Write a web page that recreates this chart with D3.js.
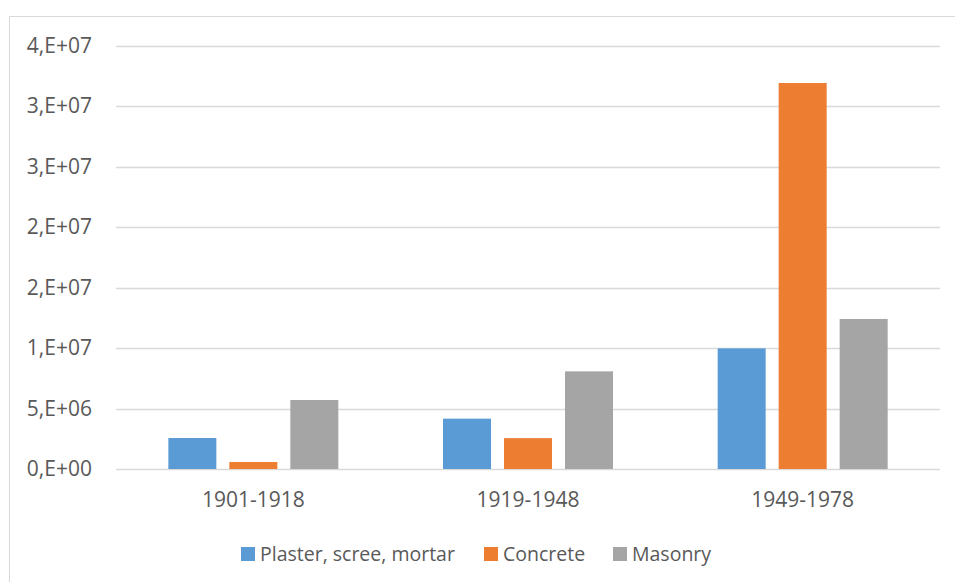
<!DOCTYPE html>
<html>
<head>
<meta charset="utf-8">
<script src="https://cdn.jsdelivr.net/npm/d3@7"></script>
<style>
  body { margin: 0; background: #fff; }
  svg text { font-family: "Open Sans", sans-serif; fill: #595959; }
</style>
</head>
<body>
<svg id="chart" width="955" height="582"></svg>
<script>
// chart values
const periods = ["1901-1918", "1919-1948", "1949-1978"];
const seriesNames = ["Plaster, scree, mortar", "Concrete", "Masonry"];
const plaster = [2.56e6, 4.16e6, 9.97e6];
const concrete = [0.58e6, 2.55e6, 31.9e6];
const masonry = [5.7e6, 8.07e6, 12.4e6];
const tickValues = [0, 5e6, 1e7, 1.5e7, 2e7, 2.5e7, 3e7, 3.5e7];
const tickLabels = ["0,E+00", "5,E+06", "1,E+07", "2,E+07", "2,E+07", "3,E+07", "3,E+07", "4,E+07"];
const colors = ["#5B9BD5", "#ED7D31", "#A5A5A5"];

const svg = d3.select("#chart");

// outer chart border (top + left visible)
svg.append("path")
    .attr("d", "M9.5,582 L9.5,16.5 L955,16.5")
    .attr("fill", "none")
    .attr("stroke", "#d9d9d9")
    .attr("stroke-width", 1);

const plot = { left: 116, right: 940, top: 45.5, bottom: 469 };

const x0 = d3.scaleBand().domain(periods).range([plot.left, plot.right]);
const groupW = 170;
const x1 = d3.scaleBand()
    .domain(seriesNames)
    .range([(x0.bandwidth() - groupW) / 2, (x0.bandwidth() + groupW) / 2])
    .paddingInner(0.213);

const y = d3.scaleLinear().domain([0, 3.5e7]).range([plot.bottom, plot.top]);

// gridlines
svg.append("g")
    .selectAll("line")
    .data(tickValues)
    .join("line")
    .attr("x1", plot.left)
    .attr("x2", plot.right)
    .attr("y1", d => Math.round(y(d)) + 0.5)
    .attr("y2", d => Math.round(y(d)) + 0.5)
    .attr("stroke", "#d9d9d9")
    .attr("stroke-width", 1.3);

// y labels
const yAxis = d3.axisLeft(y)
    .tickValues(tickValues)
    .tickFormat((d, i) => tickLabels[i])
    .tickSize(0)
    .tickPadding(24);
const gy = svg.append("g").attr("transform", `translate(${plot.left},0)`).call(yAxis);
gy.select(".domain").remove();
gy.selectAll("text").style("font-size", "21px").attr("fill", "#595959");

// bars
const seriesData = [plaster, concrete, masonry];
const rows = periods.map((p, i) => ({ period: p, vals: seriesNames.map((s, k) => ({ name: s, k: k, v: seriesData[k][i] })) }));

svg.append("g")
    .selectAll("g")
    .data(rows)
    .join("g")
    .attr("transform", d => `translate(${x0(d.period)},0)`)
    .selectAll("rect")
    .data(d => d.vals)
    .join("rect")
    .attr("x", d => x1(d.name))
    .attr("width", x1.bandwidth())
    .attr("y", d => y(d.v))
    .attr("height", d => y(0) - y(d.v))
    .attr("fill", d => colors[d.k]);

// x labels
const xAxis = d3.axisBottom(x0).tickSize(0).tickPadding(23);
const gx = svg.append("g").attr("transform", `translate(0,${plot.bottom})`).call(xAxis);
gx.select(".domain").remove();
gx.selectAll("text").style("font-size", "21px").attr("fill", "#595959");

// legend
const legendX = [241, 484, 613];
const legend = svg.append("g")
    .selectAll("g")
    .data(seriesNames)
    .join("g")
    .attr("transform", (d, i) => `translate(${legendX[i]},547)`);
legend.append("rect")
    .attr("width", 14)
    .attr("height", 14)
    .attr("fill", (d, i) => colors[i]);
legend.append("text")
    .attr("x", 19)
    .attr("y", 7)
    .attr("dy", "0.35em")
    .style("font-size", "19.5px")
    .text(d => d);
</script>
</body>
</html>
